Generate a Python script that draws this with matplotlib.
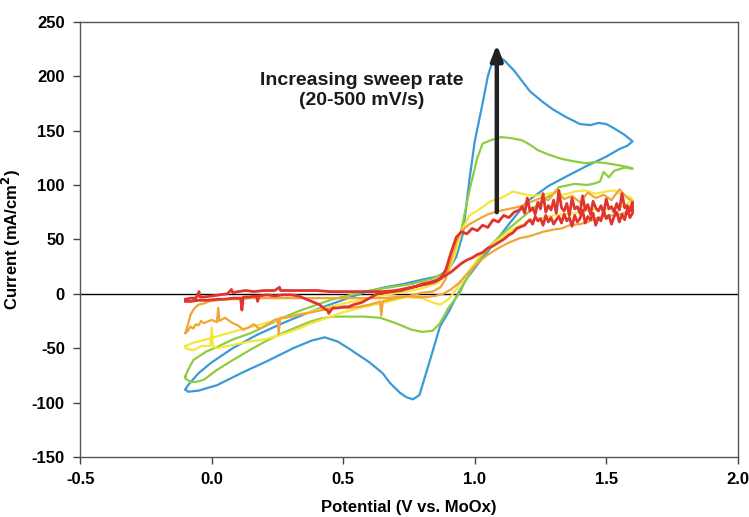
import matplotlib
matplotlib.use("Agg")
import matplotlib.pyplot as plt
from matplotlib.ticker import FixedLocator, FormatStrFormatter

plt.rcParams['font.family'] = ['Liberation Sans', 'DejaVu Sans']
plt.rcParams['font.weight'] = 'bold'

# ---------------- data ----------------
# 500 mV/s (blue)
blue_x = [-0.10, -0.09, -0.05, 0.00, 0.08, 0.17, 0.27, 0.37, 0.46, 0.53, 0.59, 0.66, 0.73, 0.80, 0.86,
          0.90, 0.93, 0.955, 0.98, 1.00, 1.03, 1.05, 1.065, 1.085, 1.11, 1.15, 1.21, 1.26, 1.30, 1.35,
          1.40, 1.44, 1.47, 1.50, 1.53, 1.57, 1.60,
          1.58, 1.55, 1.50, 1.43, 1.35, 1.28, 1.20, 1.13, 1.07, 1.02, 0.97, 0.936, 0.90, 0.868, 0.83,
          0.79, 0.765, 0.74, 0.716, 0.678, 0.65, 0.60, 0.526, 0.48, 0.43, 0.38, 0.31, 0.21, 0.12, 0.02,
          -0.05, -0.09, -0.10]
blue_y = [-88, -84, -73, -63, -50, -38, -27, -17, -9, -3, 2, 6, 9, 13, 16,
          22, 34, 55, 105, 140, 175, 200, 212, 218, 215, 205, 186, 176, 169, 162,
          156, 155, 157, 156, 152, 146, 140,
          136, 133, 126, 118, 108, 99, 85, 64, 45, 30, 14, 0, -17, -30, -61,
          -93, -97, -95, -91, -82, -73, -63, -51, -44, -40, -43, -50, -62, -72, -84,
          -89, -90, -88]

# 200 mV/s (green)
green_x = [-0.10, -0.09, -0.07, -0.02, 0.02, 0.08, 0.15, 0.21, 0.27, 0.33, 0.40, 0.46, 0.53, 0.60,
           0.68, 0.76, 0.84, 0.89, 0.92, 0.95, 0.98, 1.01, 1.03, 1.06, 1.10, 1.14, 1.18, 1.21, 1.24,
           1.28, 1.33, 1.37, 1.42, 1.46, 1.50, 1.55, 1.59, 1.60,
           1.57, 1.53, 1.51, 1.49, 1.476, 1.45, 1.426, 1.38, 1.32, 1.30, 1.27, 1.22, 1.16, 1.10, 1.05,
           1.00, 0.96, 0.944, 0.90, 0.868, 0.84, 0.80, 0.76, 0.70, 0.64, 0.58, 0.51, 0.46, 0.41, 0.37,
           0.32, 0.27, 0.21, 0.15, 0.08, 0.02, -0.03, -0.06, -0.08, -0.10, -0.10]
green_y = [-76, -70, -61, -53, -49, -42, -36, -29, -22, -16, -10, -5, -1, 3,
           6, 9, 14, 20, 32, 60, 95, 125, 138, 141, 144, 143, 141, 137, 132,
           128, 124, 122, 120, 121, 120, 118, 116, 115,
           116, 113, 107, 112, 103, 101, 100, 101, 98, 92, 88, 78, 66, 54, 42,
           26, 10, 1, -13, -27, -34, -35, -33, -27, -22, -21, -21, -21, -23, -26,
           -31, -36, -43, -51, -61, -70, -79, -81, -81, -78, -76]

# 100 mV/s (yellow)
yellow_x = [-0.10, -0.07, -0.02, 0.05, 0.14, 0.22, 0.30, 0.40, 0.50, 0.58, 0.66, 0.74, 0.80, 0.86,
            0.90, 0.93, 0.95, 0.98, 1.02, 1.06, 1.10, 1.145, 1.18, 1.22, 1.26, 1.30, 1.34, 1.38, 1.42,
            1.46, 1.50, 1.53, 1.56, 1.59, 1.60,
            1.56, 1.50, 1.44, 1.38, 1.30, 1.22, 1.15, 1.08, 1.02, 0.97, 0.93, 0.90, 0.87, 0.84, 0.80,
            0.74, 0.66, 0.58, 0.50, 0.44, 0.38, 0.32, 0.26, 0.20, 0.14, 0.08, 0.02, 0.005, 0.00,
            -0.005, -0.04, -0.07, -0.10, -0.10]
yellow_y = [-48, -45, -42, -37, -31, -26, -21, -15, -9, -5, -1, 2, 5, 10,
            20, 40, 58, 72, 78, 85, 88, 94, 92, 90, 91, 93, 91, 94, 95,
            92, 94, 95, 91, 89, 86,
            80, 78, 77, 74, 72, 68, 60, 48, 35, 18, 4, -5, -10, -8, -4,
            -3, -8, -12, -17, -22, -27, -33, -38, -42, -44, -47, -50, -48, -31,
            -48, -48, -52, -50, -48]

# 50 mV/s (orange)
orange_x = [-0.10, -0.09, -0.08, -0.07, -0.06, -0.05, -0.04, -0.03, -0.02, 0.00, 0.02, 0.025, 0.03,
            0.05, 0.08, 0.10, 0.12, 0.14, 0.16, 0.18, 0.20, 0.22, 0.24, 0.25, 0.255, 0.26, 0.28, 0.30,
            0.33, 0.36, 0.40, 0.44, 0.48, 0.52, 0.56, 0.60, 0.63, 0.64, 0.645, 0.65, 0.70, 0.75, 0.80,
            0.84, 0.87, 0.89, 0.91, 0.93, 0.95, 0.98, 1.01, 1.05, 1.09, 1.13, 1.17, 1.21, 1.25, 1.28,
            1.31, 1.34, 1.37, 1.40, 1.43, 1.46, 1.49, 1.52, 1.55, 1.58, 1.60,
            1.58, 1.55, 1.52, 1.49, 1.46, 1.43, 1.40, 1.36, 1.33, 1.30, 1.26, 1.21, 1.17, 1.13, 1.09,
            1.05, 1.01, 0.97, 0.94, 0.91, 0.88, 0.85, 0.82, 0.78, 0.74, 0.70, 0.65, 0.60, 0.55, 0.50,
            0.45, 0.40, 0.35, 0.30, 0.25, 0.20, 0.15, 0.10, 0.05, 0.02, -0.01, -0.03, -0.05, -0.06,
            -0.07, -0.08, -0.09, -0.10]
orange_y = [-36, -34, -30, -32, -28, -29, -25, -27, -26, -24, -26, -13, -25,
            -22, -27, -29, -33, -31, -28, -32, -30, -27, -24, -23, -37, -22, -22, -21,
            -19, -18, -16, -14, -13, -13, -12, -10, -8, -7, -20, -7, -4, -2, 1,
            2, 6, 14, 32, 48, 58, 64, 68, 73, 76, 78, 80, 84, 88, 86,
            95, 87, 90, 84, 93, 88, 91, 86, 96, 88, 85,
            75, 73, 72, 71, 69, 66, 64, 63, 60, 59, 57, 53, 51, 47, 42,
            36, 28, 18, 10, 4, 0, -2, -3, -3, -2, -3, -4, -4, -4, -4,
            -4, -4, -4, -4, -4, -4, -4, -5, -5, -6, -7, -9, -10, -12,
            -15, -19, -28, -36]

# 20 mV/s (red)
red_x = [-0.10, -0.08, -0.06, -0.048, -0.045, -0.03, 0.00, 0.03, 0.06, 0.075, 0.08, 0.10, 0.13,
         0.16, 0.20, 0.24, 0.258, 0.262, 0.30, 0.35, 0.40, 0.45, 0.50, 0.55, 0.60, 0.65, 0.70, 0.74,
         0.78, 0.82, 0.85, 0.87, 0.89, 0.91, 0.93, 0.95, 0.97, 0.99, 1.01, 1.03, 1.05, 1.07, 1.09,
         1.11, 1.13, 1.15,
         1.17, 1.18, 1.19, 1.20, 1.21, 1.22, 1.23, 1.24, 1.25, 1.26, 1.27, 1.28, 1.29, 1.30, 1.31,
         1.32, 1.33, 1.34, 1.35, 1.36, 1.37, 1.38, 1.39, 1.40, 1.41, 1.42, 1.43, 1.44, 1.45, 1.46,
         1.47, 1.48, 1.49, 1.50, 1.51, 1.52, 1.53, 1.54, 1.55, 1.56, 1.57, 1.58, 1.59, 1.60,
         1.60, 1.59, 1.58, 1.57, 1.56, 1.55, 1.54, 1.53, 1.52, 1.51, 1.50, 1.49, 1.48, 1.47, 1.46,
         1.45, 1.44, 1.43, 1.42, 1.41, 1.40, 1.39, 1.38, 1.37, 1.36, 1.35, 1.34, 1.33, 1.32, 1.31,
         1.30, 1.29, 1.28, 1.27, 1.26, 1.25, 1.24, 1.23, 1.22, 1.21, 1.20, 1.19, 1.18, 1.17,
         1.16, 1.145, 1.13, 1.11, 1.09, 1.07, 1.05, 1.03, 1.01, 0.99, 0.97, 0.95, 0.93, 0.91, 0.89,
         0.87, 0.85, 0.82, 0.80, 0.78, 0.75, 0.72, 0.69, 0.66, 0.63, 0.60, 0.57, 0.54, 0.52, 0.50,
         0.48, 0.46, 0.445, 0.44, 0.43, 0.41, 0.39, 0.37, 0.35, 0.33, 0.30, 0.27, 0.24, 0.21, 0.18,
         0.175, 0.17, 0.14, 0.12, 0.115, 0.11, 0.08, 0.05, 0.02, -0.02, -0.05, -0.08, -0.10]
red_y = [-5, -4, -4, 2, -3, -3, -2, -1, 0, 4, 1, 2, 3,
         2, 3, 3, 6, 3, 3, 3, 3, 2, 2, 2, 2, 2, 3, 5,
         7, 9, 11, 14, 22, 38, 52, 57, 55, 60, 58, 63, 61, 68, 66,
         72, 70, 75,
         77, 80, 74, 88, 76, 79, 73, 84, 78, 92, 75, 81, 77, 86, 74,
         95, 79, 76, 83, 72, 88, 78, 80, 74, 90, 77, 82, 73, 85, 79,
         76, 81, 74, 87, 78, 80, 75, 83, 77, 92, 79, 81, 76, 84,
         74, 70, 78, 68, 73, 66, 75, 71, 64, 72, 69, 76, 67, 70, 63,
         74, 68, 71, 65, 77, 69, 66, 72, 62, 70, 67, 73, 65, 71, 68,
         64, 70, 66, 72, 63, 69, 67, 71, 64, 68, 66, 63, 62, 61,
         60, 56, 54, 50, 47, 44, 42, 38, 36, 33, 31, 28, 24, 20, 17,
         14, 12, 10, 9, 7, 5, 3, 2, 1, 0, -4, -8, -10, -12, -12,
         -13, -13, -18, -15, -14, -10, -8, -6, -4, -2, -1, -1, -2, -1, -2,
         -7, -2, -3, -3, -15, -4, -4, -5, -5, -6, -6, -7, -7]

series = [
    ("500 mV/s", blue_x, blue_y, "#3a9ad8", 1.6),
    ("200 mV/s", green_x, green_y, "#8fcd3e", 1.6),
    ("100 mV/s", yellow_x, yellow_y, "#f6e63c", 1.6),
    ("50 mV/s", orange_x, orange_y, "#f2a436", 1.6),
    ("20 mV/s", red_x, red_y, "#e0342f", 2.0),
]

x_ticks = [-0.5, 0.0, 0.5, 1.0, 1.5, 2.0]
y_ticks = [-150, -100, -50, 0, 50, 100, 150, 200, 250]

annotation_text = "Increasing sweep rate\n(20-500 mV/s)"

# ---------------- figure ----------------
fig = plt.figure(figsize=(7.49, 5.17), dpi=100)
ax = fig.add_axes([0.107, 0.116, 0.878, 0.842])

ax.axhline(0, color="black", lw=1.0, zorder=1)
for name, xs, ys, col, lw in series:
    ax.plot(xs, ys, color=col, lw=lw, solid_joinstyle="round", zorder=2)

ax.set_xlim(-0.5, 2.0)
ax.set_ylim(-150, 250)
ax.xaxis.set_major_locator(FixedLocator(x_ticks))
ax.yaxis.set_major_locator(FixedLocator(y_ticks))
ax.xaxis.set_major_formatter(FormatStrFormatter("%.1f"))
ax.yaxis.set_major_formatter(FormatStrFormatter("%d"))
ax.tick_params(direction="out", length=5, width=1, color="#444444",
               labelsize=12, pad=6)
for s in ax.spines.values():
    s.set_color("#555555")
    s.set_linewidth(1.0)

ax.set_xlabel("Potential (V vs. MoOx)", fontsize=12, fontweight="bold", labelpad=9)
ax.set_ylabel("Current (mA/cm$\\mathbf{^2}$)", fontsize=12, fontweight="bold", labelpad=6)

ax.text(0.57, 187, annotation_text, ha="center", va="center", fontsize=14,
        fontweight="bold", linespacing=1.2, color="#1a1a1a", zorder=5)
ax.annotate("", xy=(1.084, 229), xytext=(1.084, 75),
            arrowprops=dict(arrowstyle="-|>,head_length=0.9,head_width=0.35",
                            lw=3.2, color="#222222", shrinkA=0, shrinkB=0),
            zorder=6)

fig.savefig("out.png", dpi=100)
